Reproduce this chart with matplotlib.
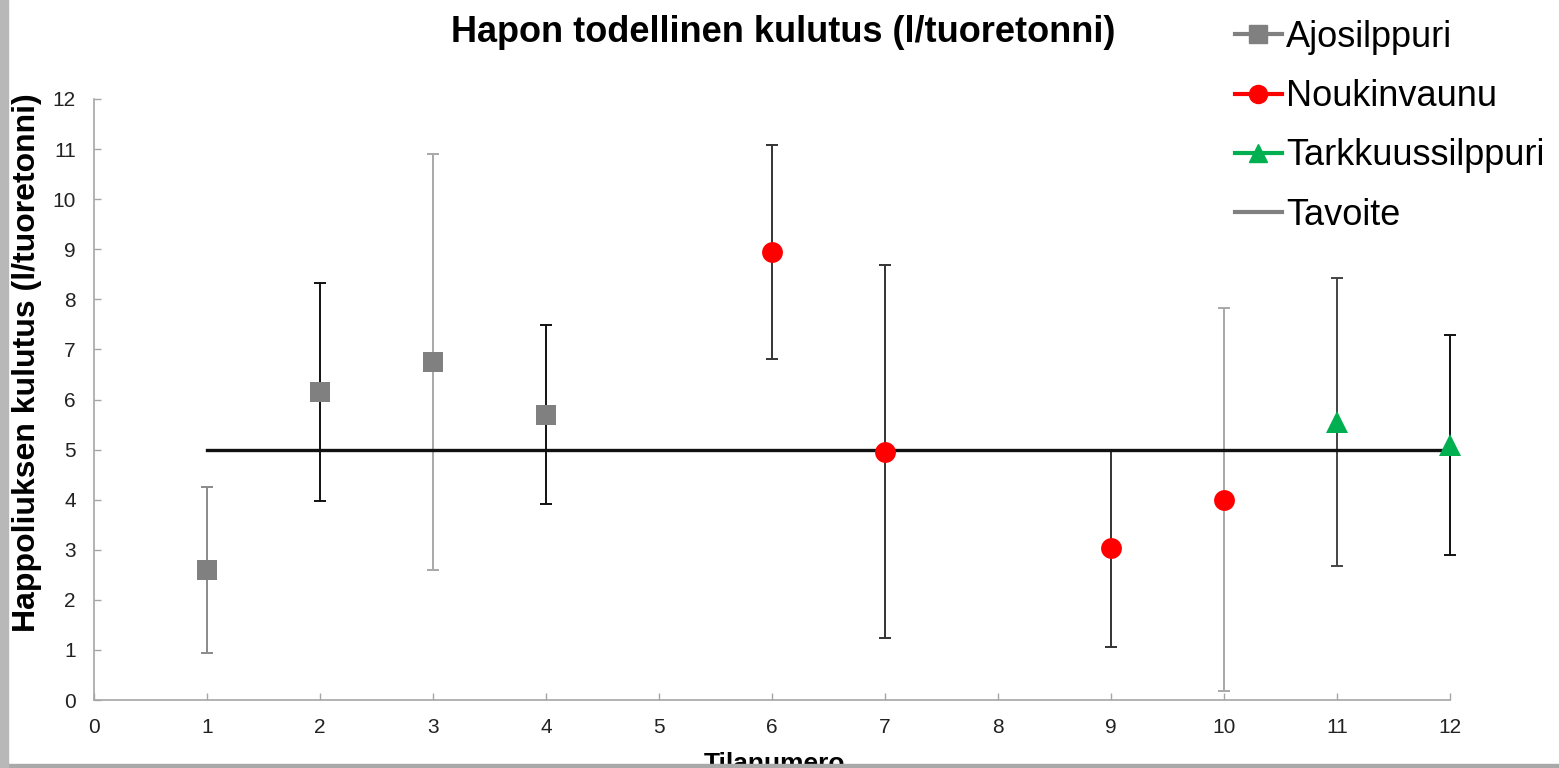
import numpy as np
import matplotlib
matplotlib.use("Agg")
import matplotlib.pyplot as plt
from matplotlib.lines import Line2D
from matplotlib.patches import Rectangle

plt.rcParams['font.family'] = ['Liberation Sans', 'DejaVu Sans']

# farm number, mean acid use and standard deviation per harvesting method
ajo_x = [1, 2, 3, 4]
ajo_y = [2.6, 6.15, 6.75, 5.7]
ajo_sd = [1.66, 2.18, 4.15, 1.78]
ajo_ecol = ['#8a8a8a', '#111111', '#a8a8a8', '#111111']

nouk_x = [6, 7, 9, 10]
nouk_y = [8.95, 4.96, 3.03, 4.0]
nouk_sd = [2.14, 3.72, 1.97, 3.83]
nouk_ecol = ['#333333', '#333333', '#333333', '#a8a8a8']

tark_x = [11, 12]
tark_y = [5.55, 5.09]
tark_sd = [2.87, 2.2]
tark_ecol = ['#444444', '#111111']

tavoite_x = [1, 12]
tavoite_y = [5, 5]

W, H = 1559, 768
fig = plt.figure(figsize=(W / 100, H / 100), dpi=100)
ax = fig.add_axes([94 / W, 68 / H, 1356 / W, 601 / H])

def series(xs, ys, sds, ecols, marker, color, ms):
    for x, y, s, ec in zip(xs, ys, sds, ecols):
        eb = ax.errorbar(x, y, yerr=s, fmt='none', ecolor=ec, elinewidth=1.4,
                         capsize=4.5, capthick=1.4, zorder=2)
        for art in eb.lines[1] + eb.lines[2]:
            art.set_clip_on(False)
    ax.plot(xs, ys, linestyle='none', marker=marker, color=color,
            markersize=ms, markeredgewidth=0, zorder=4, clip_on=False)

ax.plot(tavoite_x, tavoite_y, color='#111111', linewidth=2.4, zorder=3)
series(ajo_x, ajo_y, ajo_sd, ajo_ecol, 's', '#808080', 14)
series(nouk_x, nouk_y, nouk_sd, nouk_ecol, 'o', '#ff0000', 15)
series(tark_x, tark_y, tark_sd, tark_ecol, '^', '#00b050', 16)

ax.set_xlim(0, 12)
ax.set_ylim(0, 12)
ax.set_xticks(range(0, 13))
ax.set_yticks(range(0, 13))
for s in ['top', 'right']:
    ax.spines[s].set_visible(False)
for s in ['left', 'bottom']:
    ax.spines[s].set_color('#a6a6a6')
    ax.spines[s].set_linewidth(1.2)
ax.tick_params(direction='in', length=5, width=1, color='#a6a6a6',
               labelsize=15, labelcolor='#222222')
ax.tick_params(axis='x', pad=13)
ax.tick_params(axis='y', pad=13)

fig.text(783 / W, 1 - 32 / H, 'Hapon todellinen kulutus (l/tuoretonni)',
         fontsize=26, fontweight='bold', ha='center', va='center')
fig.text(27 / W, 1 - 363 / H, 'Happoliuksen kulutus (l/tuoretonni)',
         fontsize=23, fontweight='bold', rotation=90, ha='center', va='center')
fig.text(774 / W, 1 - 752 / H, 'Tilanumero', fontsize=19, fontweight='bold',
         ha='center', va='top')

handles = [
    Line2D([], [], color='#808080', marker='s', markersize=13, linewidth=3),
    Line2D([], [], color='#ff0000', marker='o', markersize=13, linewidth=3),
    Line2D([], [], color='#00b050', marker='^', markersize=13, linewidth=3),
    Line2D([], [], color='#808080', linewidth=3),
]
labels = ['Ajosilppuri', 'Noukinvaunu', 'Tarkkuussilppuri', 'Tavoite']
fig.legend(handles, labels, loc='upper left',
           bbox_to_anchor=(1235 / W, 1 - 20 / H), frameon=False, fontsize=26,
           handlelength=1.3, handletextpad=0.12, labelspacing=0.67,
           borderpad=0, borderaxespad=0)

# slide frame edges
fig.add_artist(Rectangle((0, 0), 1, 4 / H, transform=fig.transFigure,
                         color='#a9a9a9', zorder=10))
fig.add_artist(Rectangle((0, 0), 8 / W, 1, transform=fig.transFigure,
                         color='#b8b8b8', zorder=10))

fig.savefig('out.png', dpi=100)
